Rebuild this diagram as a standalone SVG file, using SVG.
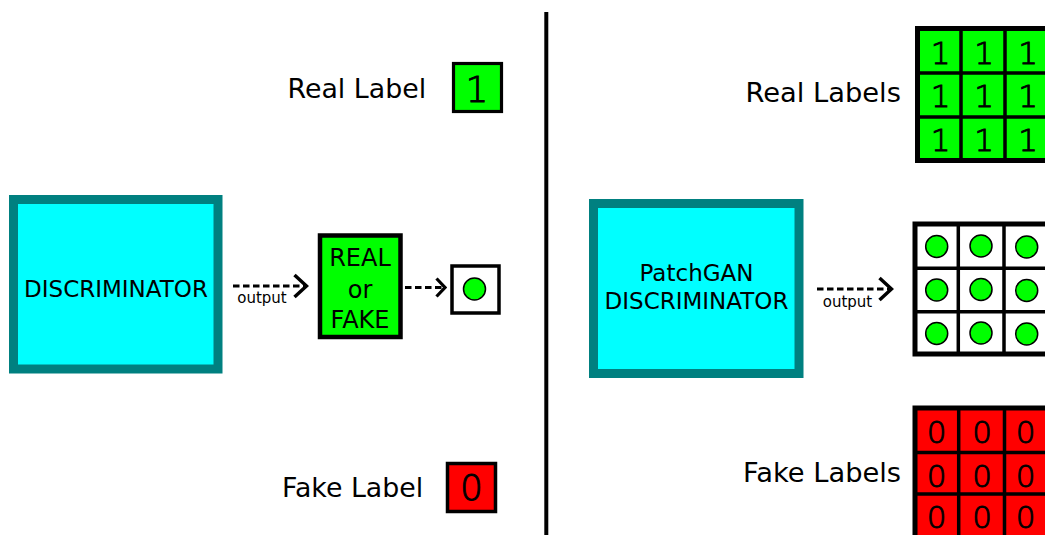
<svg xmlns="http://www.w3.org/2000/svg" width="1045" height="535" viewBox="0 0 1045 535">
  <style>
    .lbl { font-family: "DejaVu Sans", Verdana, sans-serif; fill: #000; }
    .big { font-size: 26.8px; }
    .bigr { font-size: 27.3px; }
    .box { font-size: 23px; text-anchor: middle; }
    .small { font-size: 15px; }
    .digit { font-family: "DejaVu Sans", sans-serif; font-weight: 200; text-anchor: middle; fill: #000; stroke: #000; stroke-width: 0.9; }
    .disc { fill: #00ffff; stroke: #008080; stroke-width: 9; }
    .dash { fill: none; stroke: #000; stroke-width: 3; stroke-dasharray: 6.5 3.5; }
    .dot { fill: #00ff00; stroke: #000; stroke-width: 1.5; }
    .grid { fill: none; stroke: #000; stroke-width: 3.5; }
    .frame { fill: none; stroke: #000; stroke-width: 5; }
  </style>
  <defs>
    <marker id="chev" viewBox="0 0 16 26" refX="14" refY="13" markerWidth="16" markerHeight="26" markerUnits="userSpaceOnUse" orient="auto">
      <path d="M2,2 L14,13 L2,24" fill="none" stroke="#000" stroke-width="3.5"/>
    </marker>
    <marker id="chevS" viewBox="0 0 12 22" refX="10.5" refY="11" markerWidth="12" markerHeight="22" markerUnits="userSpaceOnUse" orient="auto">
      <path d="M2,2 L10.5,11 L2,20" fill="none" stroke="#000" stroke-width="3.2"/>
    </marker>
  </defs>

  <rect width="1045" height="535" fill="#ffffff"/>

  <!-- divider between the two halves -->
  <line id="divider" x1="546.3" y1="12" x2="546.3" y2="535" stroke="#000" stroke-width="4"/>

  <!-- left half: single-output discriminator -->
  <g id="real-label">
    <text class="lbl big" x="287.5" y="98">Real Label</text>
    <rect x="453.5" y="63.5" width="48" height="48" fill="#00ff00" stroke="#000" stroke-width="3.2"/>
    <text class="digit" x="477" y="101.5" font-size="36">1</text>
  </g>

  <g id="discriminator">
    <rect class="disc" x="13.5" y="199.5" width="204.5" height="169.5"/>
    <text class="lbl box" x="116" y="297">DISCRIMINATOR</text>
  </g>

  <g id="real-or-fake">
    <rect x="320" y="235.5" width="80.5" height="101.5" fill="#00ff00" stroke="#000" stroke-width="4.5"/>
    <text class="lbl" x="360" y="266" font-size="24" text-anchor="middle">REAL</text>
    <text class="lbl" x="360" y="297.5" font-size="24" text-anchor="middle">or</text>
    <text class="lbl" x="360" y="327.5" font-size="24" text-anchor="middle">FAKE</text>
  </g>

  <g id="single-output">
    <rect x="452" y="266" width="47" height="47" fill="#ffffff" stroke="#000" stroke-width="3.5"/>
    <circle class="dot" cx="474.5" cy="289" r="11"/>
  </g>

  <g id="fake-label">
    <text class="lbl big" x="282" y="497">Fake Label</text>
    <rect x="447.5" y="463.5" width="48" height="48" fill="#ff0000" stroke="#000" stroke-width="3.5"/>
    <text class="digit" x="471.5" y="500" font-size="36">0</text>
  </g>

  <!-- right half: PatchGAN discriminator -->
  <g id="real-labels">
    <text class="lbl bigr" x="745.5" y="102">Real Labels</text>
    <rect x="917.5" y="28.5" width="140" height="132" fill="#00ff00"/>
    <path class="grid" d="M961,28.5 V160.5 M1005,28.5 V160.5 M1049,28.5 V160.5 M917.5,73 H1050 M917.5,117 H1050"/>
    <path class="frame" d="M1050,28.5 H917.5 V160.5 H1050"/>
    <g class="digit" font-size="31">
      <text x="940.5" y="63.5">1</text><text x="984" y="63.5">1</text><text x="1028" y="63.5">1</text>
      <text x="940.5" y="107">1</text><text x="984" y="107">1</text><text x="1028" y="107">1</text>
      <text x="940.5" y="150.5">1</text><text x="984" y="150.5">1</text><text x="1028" y="150.5">1</text>
    </g>
  </g>

  <g id="patchgan">
    <rect class="disc" x="593.5" y="203.5" width="205.5" height="170"/>
    <text class="lbl box" x="696.5" y="281">PatchGAN</text>
    <text class="lbl box" x="696.5" y="309">DISCRIMINATOR</text>
  </g>

  <g id="patch-output">
    <rect x="915" y="224" width="140" height="130" fill="#ffffff"/>
    <path class="grid" d="M958.3,224 V354 M1004,224 V354 M1049.5,224 V354 M915,268.3 H1050 M915,311.7 H1050"/>
    <path class="frame" d="M1050,224 H915 V354 H1050"/>
    <circle class="dot" cx="936.7" cy="246.5" r="11"/>
    <circle class="dot" cx="981" cy="246" r="11"/>
    <circle class="dot" cx="1026.7" cy="247" r="11"/>
    <circle class="dot" cx="936.7" cy="290" r="11"/>
    <circle class="dot" cx="981" cy="289.5" r="11"/>
    <circle class="dot" cx="1026.7" cy="290.5" r="11"/>
    <circle class="dot" cx="936.7" cy="333.5" r="11"/>
    <circle class="dot" cx="981" cy="333" r="11"/>
    <circle class="dot" cx="1026.7" cy="334" r="11"/>
  </g>

  <g id="fake-labels">
    <text class="lbl bigr" x="743" y="482">Fake Labels</text>
    <rect x="915" y="408" width="140" height="130" fill="#ff0000"/>
    <path class="grid" d="M958.7,408 V540 M1004.5,408 V540 M1050,408 V540 M915,452.5 H1050 M915,494 H1050 M915,537.5 H1050"/>
    <path class="frame" d="M1050,408 H915 V540"/>
    <g class="digit" font-size="31">
      <text x="936.7" y="443">0</text><text x="982" y="443">0</text><text x="1025.5" y="443">0</text>
      <text x="936.7" y="486.5">0</text><text x="982" y="486.5">0</text><text x="1025.5" y="486.5">0</text>
      <text x="936.7" y="527.5">0</text><text x="982" y="527.5">0</text><text x="1025.5" y="527.5">0</text>
    </g>
  </g>

  <!-- connectors -->
  <g id="connectors">
    <line class="dash" x1="233" y1="286" x2="306.5" y2="286" marker-end="url(#chev)"/>
    <text class="lbl small" x="262" y="302.5" text-anchor="middle">output</text>
    <line class="dash" x1="405" y1="287.5" x2="445" y2="287.5" marker-end="url(#chevS)"/>
    <line class="dash" x1="817" y1="289" x2="891.5" y2="289" marker-end="url(#chev)"/>
    <text class="lbl small" x="847.5" y="307" text-anchor="middle">output</text>
  </g>
</svg>
